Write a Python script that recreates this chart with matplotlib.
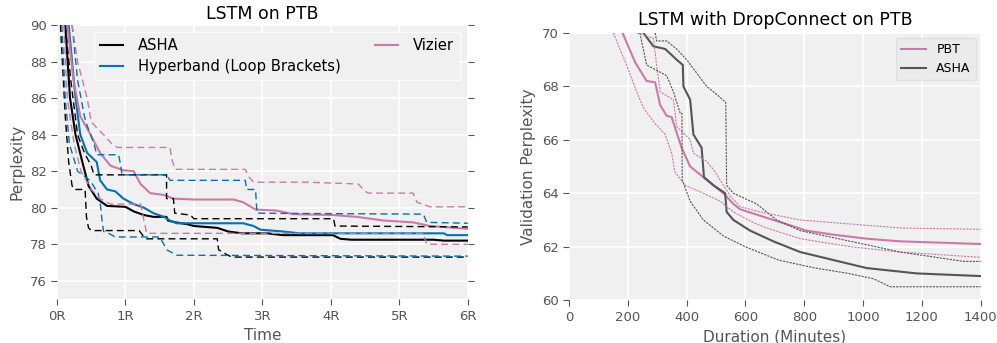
import matplotlib.pyplot as plt

# ---- LSTM on PTB (time in units of R) ----
asha_t = [0.12, 0.19, 0.27, 0.37, 0.46, 0.58, 0.73, 1.0, 1.12, 1.27, 1.41, 1.6, 1.62, 1.73, 1.9, 2.0, 2.34, 2.5, 2.7, 3.07, 3.3, 4.03, 4.14, 4.3, 5.5, 5.65, 6.0]
asha_y = [90, 86, 84, 82.5, 81.2, 80.5, 80.1, 80.05, 79.8, 79.6, 79.5, 79.5, 79.3, 79.2, 79.1, 79.0, 78.9, 78.7, 78.6, 78.6, 78.5, 78.5, 78.3, 78.25, 78.25, 78.2, 78.2]
asha_hi_t = [0.12, 0.2, 0.3, 0.4, 0.5, 0.54, 1.6, 1.6, 1.7, 1.72, 1.95, 2.0, 4.04, 4.06, 6.0]
asha_hi_y = [90, 87, 84, 83, 82.3, 81.8, 81.8, 80.5, 80.5, 79.7, 79.6, 79.4, 79.4, 79.0, 78.95]
asha_lo_t = [0.05, 0.12, 0.17, 0.22, 0.25, 0.41, 0.43, 0.46, 0.5, 1.2, 1.27, 1.3, 2.34, 2.36, 2.45, 2.55, 6.0]
asha_lo_y = [90, 85, 82.5, 81.2, 81.0, 81.0, 79.5, 78.9, 78.75, 78.75, 78.4, 78.3, 78.3, 77.7, 77.5, 77.3, 77.3]

hb_t = [0.17, 0.27, 0.34, 0.44, 0.58, 0.63, 0.73, 0.85, 0.97, 1.12, 1.27, 1.41, 1.56, 1.65, 1.75, 2.72, 2.87, 2.97, 3.3, 3.55, 5.65, 5.7, 6.0]
hb_y = [90, 86, 84, 83, 82.5, 81.5, 81.0, 80.9, 80.5, 80.2, 80.0, 79.7, 79.5, 79.3, 79.15, 79.15, 79.0, 78.8, 78.7, 78.6, 78.6, 78.5, 78.5]
hb_hi_t = [0.22, 0.3, 0.4, 0.44, 0.54, 0.58, 0.9, 0.93, 0.95, 1.6, 1.65, 2.75, 2.77, 2.9, 2.92, 5.35, 5.4, 6.0]
hb_hi_y = [90, 87, 85, 84.5, 83.5, 82.9, 82.9, 82.3, 81.8, 81.8, 81.5, 81.5, 81.0, 81.0, 79.7, 79.65, 79.2, 79.15]
hb_lo_t = [0.07, 0.12, 0.18, 0.3, 0.48, 0.6, 0.63, 0.66, 0.68, 0.78, 0.85, 1.5, 1.56, 1.6, 1.75, 6.0]
hb_lo_y = [90, 86, 83.5, 82, 81.5, 80.8, 80.3, 79.2, 78.7, 78.55, 78.4, 78.4, 78.0, 77.7, 77.4, 77.35]

viz_t = [0.15, 0.24, 0.34, 0.49, 0.63, 0.78, 0.97, 1.12, 1.22, 1.36, 1.56, 1.7, 2.0, 2.58, 2.72, 2.9, 3.2, 3.45, 4.04, 4.38, 4.77, 5.2, 5.45, 6.0]
viz_y = [90, 87, 85, 84, 83, 82.3, 82.05, 82.0, 81.3, 80.8, 80.7, 80.5, 80.45, 80.45, 80.3, 79.9, 79.85, 79.65, 79.6, 79.5, 79.3, 79.2, 79.0, 78.85]
viz_hi_t = [0.22, 0.3, 0.44, 0.5, 0.6, 0.68, 0.8, 0.88, 1.65, 1.68, 1.73, 2.75, 2.8, 2.87, 3.65, 4.4, 4.5, 4.55, 5.2, 5.26, 5.45, 6.0]
viz_hi_y = [90, 88, 86, 84.7, 84.3, 84.0, 83.5, 83.3, 83.3, 82.6, 82.1, 82.1, 81.7, 81.4, 81.4, 81.3, 80.9, 80.8, 80.8, 80.3, 80.05, 80.05]
viz_lo_t = [0.1, 0.15, 0.25, 0.35, 0.5, 0.63, 0.78, 1.22, 1.27, 1.31, 5.35, 5.4, 6.0]
viz_lo_y = [90, 86, 83.5, 82, 81, 80.5, 80.2, 80.2, 79.3, 78.6, 78.6, 78.0, 78.0]

# ---- LSTM with DropConnect on PTB (minutes) ----
pbt_t = [182, 225, 264, 293, 310, 332, 349, 383, 412, 457, 491, 525, 559, 582, 638, 695, 752, 808, 899, 1012, 1126, 1400]
pbt_y = [70, 68.9, 68.2, 68.15, 67.3, 66.9, 66.85, 65.7, 65.0, 64.6, 64.3, 64.0, 63.6, 63.4, 63.2, 63.0, 62.8, 62.6, 62.45, 62.3, 62.2, 62.1]
pbt_hi_t = [230, 287, 298, 310, 355, 366, 412, 423, 468, 497, 525, 548, 582, 650, 740, 786, 899, 1012, 1126, 1400]
pbt_hi_y = [70, 69.8, 68.8, 67.8, 67.5, 66.5, 66.0, 65.5, 65.2, 64.8, 64.3, 63.9, 63.5, 63.3, 63.1, 63.0, 62.9, 62.8, 62.7, 62.65]
pbt_lo_t = [151, 173, 196, 230, 253, 293, 327, 349, 360, 395, 457, 514, 559, 627, 672, 786, 956, 1126, 1400]
pbt_lo_y = [70, 69.4, 68.8, 67.8, 67.2, 66.6, 66.2, 65.5, 64.8, 64.3, 64.0, 63.7, 63.3, 62.9, 62.7, 62.3, 62.0, 61.8, 61.6]

asha2_t = [253, 287, 327, 366, 387, 389, 412, 423, 451, 459, 491, 531, 536, 559, 616, 695, 786, 899, 1012, 1182, 1400]
asha2_y = [70, 69.5, 69.4, 69.0, 68.8, 68.0, 67.5, 66.2, 65.7, 64.6, 64.3, 64.0, 63.3, 63.0, 62.6, 62.2, 61.8, 61.5, 61.2, 61.0, 60.9]
asha2_hi_t = [293, 298, 332, 366, 400, 434, 468, 502, 533, 536, 559, 638, 706, 786, 1001, 1126, 1341, 1400]
asha2_hi_y = [70, 69.7, 69.7, 69.4, 69.0, 68.5, 68.0, 67.7, 67.4, 64.3, 64.0, 63.6, 63.0, 62.6, 62.1, 61.8, 61.45, 61.45]
asha2_lo_t = [241, 264, 332, 355, 378, 384, 385, 412, 457, 525, 599, 712, 837, 950, 1035, 1092, 1400]
asha2_lo_y = [70, 68.8, 68.4, 67.8, 67.0, 67.0, 64.5, 63.7, 63.0, 62.4, 62.0, 61.5, 61.2, 61.0, 60.8, 60.5, 60.5]

BLUE = '#0072B2'
PINK = '#CC79A7'
GREY = '#555555'

fig = plt.figure(figsize=(9.97, 3.43), dpi=100)
ax1 = fig.add_axes([0.0572, 0.128, 0.412, 0.799])
ax2 = fig.add_axes([0.5707, 0.125, 0.413, 0.779])

for ax in (ax1, ax2):
    ax.set_facecolor('#f0f0f0')
    ax.grid(True, color='white', linewidth=1.2)
    ax.set_axisbelow(True)
    for s in ax.spines.values():
        s.set_visible(False)
    ax.tick_params(colors='#555555', labelsize=9.5, length=4, width=0.8)

# left panel
ax1.plot(asha_t, asha_y, color='black', lw=1.5, label='ASHA')
ax1.plot(hb_t, hb_y, color=BLUE, lw=1.5, label='Hyperband (Loop Brackets)')
ax1.plot(viz_t, viz_y, color=PINK, lw=1.5, label='Vizier')
for t, y, c in [(asha_hi_t, asha_hi_y, 'black'), (asha_lo_t, asha_lo_y, 'black'),
                (hb_hi_t, hb_hi_y, BLUE), (hb_lo_t, hb_lo_y, BLUE),
                (viz_hi_t, viz_hi_y, PINK), (viz_lo_t, viz_lo_y, PINK)]:
    ax1.plot(t, y, color=c, lw=1.0, ls='--', dashes=(5, 3))
ax1.set_xlim(0, 6)
ax1.set_ylim(75, 90)
ax1.set_xticks(range(7))
ax1.set_xticklabels(['%dR' % i for i in range(7)])
ax1.set_yticks(range(76, 91, 2))
ax1.tick_params(axis='y', right=True, direction='out')
ax1.set_title('LSTM on PTB', fontsize=12.5, pad=4)
ax1.set_xlabel('Time', fontsize=11, color='#555555')
ax1.set_ylabel('Perplexity', fontsize=11, color='#555555')
leg = ax1.legend(ncol=2, loc='upper right', bbox_to_anchor=(0.981, 0.975), borderaxespad=0,
                 fontsize=10.6, columnspacing=2.3, handlelength=1.6, handletextpad=1.0,
                 labelspacing=0.45, frameon=True, fancybox=False)
leg.get_frame().set_facecolor('#f0f0f0')
leg.get_frame().set_edgecolor('white')

# right panel
ax2.plot(pbt_t, pbt_y, color=PINK, lw=1.5, label='PBT')
ax2.plot(asha2_t, asha2_y, color=GREY, lw=1.5, label='ASHA')
for t, y, c in [(pbt_hi_t, pbt_hi_y, PINK), (pbt_lo_t, pbt_lo_y, PINK),
                (asha2_hi_t, asha2_hi_y, GREY), (asha2_lo_t, asha2_lo_y, GREY)]:
    ax2.plot(t, y, color=c, lw=0.8, ls=(0, (2, 1)))
ax2.set_xlim(0, 1400)
ax2.set_ylim(60, 70)
ax2.set_yticks(range(60, 71, 2))
ax2.set_title('LSTM with DropConnect on PTB', fontsize=12.5, pad=6)
ax2.set_xlabel('Duration (Minutes)', fontsize=11, color='#555555')
ax2.set_ylabel('Validation Perplexity', fontsize=11, color='#555555')
leg2 = ax2.legend(loc='upper right', fontsize=9, handlelength=2.0, handletextpad=0.8,
                  borderaxespad=0.4, fancybox=True)
leg2.get_frame().set_facecolor('#eaeaea')
leg2.get_frame().set_edgecolor('#dddddd')

fig.savefig('out.png', dpi=100)
